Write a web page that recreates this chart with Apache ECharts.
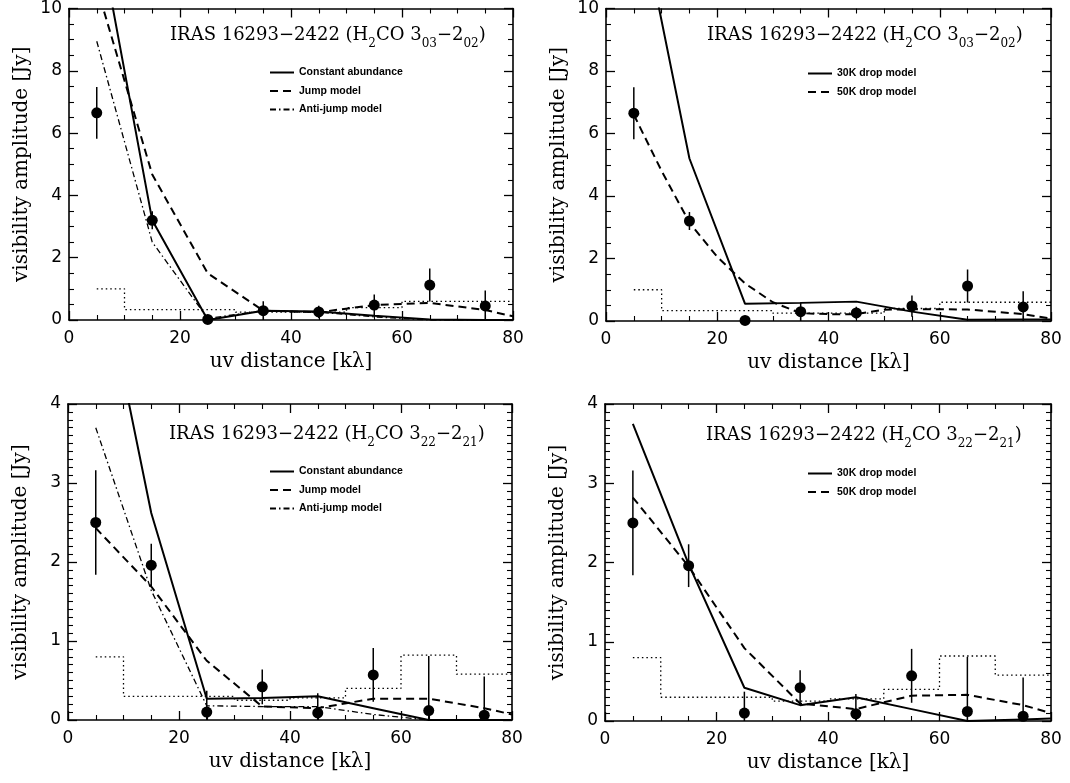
<!DOCTYPE html>
<html>
<head>
<meta charset="utf-8">
<script src="https://cdn.jsdelivr.net/npm/echarts@6/dist/echarts.min.js"></script>
<style>
html,body{margin:0;padding:0;background:#fff;}
#chart{width:1070px;height:783px;}
</style>
</head>
<body>
<div id="chart"></div>
<script>
// ---------------- data ----------------
const X_OBS = [5, 15, 25, 35, 45, 55, 65, 75];
const X_MODEL = [5, 15, 25, 35, 45, 55, 65, 75, 80];
const X_HIST = [5, 10, 20, 30, 40, 50, 60, 70];   // bin starts, last bin ends at 80
const X_HIST_END = 80;

// H2CO 3_03-2_02 observed amplitudes and errors
const obs303 = [6.65, 3.2, 0.02, 0.3, 0.26, 0.48, 1.12, 0.45];
const err303 = [0.83, 0.29, 0.15, 0.3, 0.2, 0.34, 0.53, 0.5];
const hist303 = [1.0, 0.33, 0.33, 0.25, 0.25, 0.4, 0.6, 0.6];

// H2CO 3_22-2_21 observed amplitudes and errors
const obs322 = [2.5, 1.96, 0.1, 0.42, 0.09, 0.57, 0.12, 0.06];
const err322 = [0.66, 0.27, 0.27, 0.22, 0.25, 0.34, 0.69, 0.49];
const hist322 = [0.8, 0.3, 0.3, 0.25, 0.28, 0.4, 0.82, 0.58];

// models, top-left (3_03-2_02)
const const303 = [12.8, 3.2, 0.0, 0.3, 0.27, 0.14, 0.02, 0.0, 0.0];
const jump303 = [10.7, 4.67, 1.5, 0.3, 0.25, 0.48, 0.55, 0.32, 0.12];
const anti303 = [8.95, 2.5, 0.05, 0.3, 0.25, 0.1, 0.0, 0.0, 0.0];
// models, top-right (3_03-2_02)
const drop30_303 = [14.0, 5.2, 0.55, 0.58, 0.62, 0.3, 0.04, 0.05, 0.05];
const X_DROP50_303 = [5, 10, 15, 20, 25, 30, 35, 40, 45, 50, 55, 65, 75, 80];
const drop50_303 = [6.6, 4.8, 3.15, 2.05, 1.2, 0.6, 0.25, 0.22, 0.22, 0.36, 0.38, 0.37, 0.22, 0.08];
// models, bottom-left (3_22-2_21)
const const322 = [6.07, 2.62, 0.27, 0.28, 0.3, 0.15, 0.0, 0.0, 0.0];
const jump322 = [2.43, 1.69, 0.75, 0.17, 0.15, 0.27, 0.27, 0.15, 0.07];
const anti322 = [3.7, 1.64, 0.18, 0.17, 0.17, 0.07, 0.0, 0.0, 0.0];
// models, bottom-right (3_22-2_21)
const drop30_322 = [3.75, 1.98, 0.42, 0.2, 0.3, 0.15, 0.0, 0.02, 0.03];
const drop50_322 = [2.82, 1.95, 0.92, 0.22, 0.15, 0.32, 0.33, 0.2, 0.1];

const X_TICKS = [0, 20, 40, 60, 80];
const Y_TOP = {min: 0, max: 10, interval: 2};
const Y_BOT = {min: 0, max: 4, interval: 1};

const NAME_CONST = 'Constant abundance';
const NAME_JUMP = 'Jump model';
const NAME_ANTI = 'Anti-jump model';
const NAME_30K = '30K drop model';
const NAME_50K = '50K drop model';
const X_TITLE = 'uv distance [kλ]';
const Y_TITLE = 'visibility amplitude [Jy]';

// ---------------- helpers ----------------
const zip = (xs, ys) => xs.map((x, i) => [x, ys[i]]);
const histData = (vals) => {
  const d = X_HIST.map((x, i) => [x, vals[i]]);
  d.push([X_HIST_END, vals[vals.length - 1]]);
  return d;
};

const grids = [
  {left: 69, top: 5, width: 444, height: 315},
  {left: 606, top: 5, width: 445, height: 316},
  {left: 68, top: 404, width: 444, height: 316},
  {left: 605, top: 404, width: 446, height: 317}
];

const axisLineStyle = {color: '#000', width: 1.6};
const tickLabelFont = {color: '#000', fontFamily: 'DejaVu Sans', fontSize: 17};

const xAxes = [], yAxes = [];
grids.forEach((g, gi) => {
  const yr = gi < 2 ? Y_TOP : Y_BOT;
  const yMinor = gi < 2 ? 4 : 10;
  xAxes.push({
    type: 'value', gridIndex: gi, position: 'bottom', min: 0, max: 80, interval: 20,
    axisLine: {show: true, onZero: false, lineStyle: axisLineStyle},
    axisTick: {show: true, inside: true, length: 9, lineStyle: {color: '#000', width: 1.3}},
    minorTick: {show: true, splitNumber: 4, length: 5, lineStyle: {color: '#000', width: 1.1}},
    splitLine: {show: false},
    axisLabel: Object.assign({margin: 10}, tickLabelFont),
    name: X_TITLE, nameLocation: 'middle', nameGap: 32,
    nameTextStyle: {color: '#000', fontFamily: 'DejaVu Serif', fontSize: 20}
  });
  xAxes.push({
    type: 'value', gridIndex: gi, position: 'top', min: 0, max: 80, interval: 20,
    axisLine: {show: true, onZero: false, lineStyle: axisLineStyle},
    axisTick: {show: true, inside: true, length: 9, lineStyle: {color: '#000', width: 1.3}},
    minorTick: {show: true, splitNumber: 4, length: 5, lineStyle: {color: '#000', width: 1.1}},
    splitLine: {show: false}, axisLabel: {show: false}
  });
  yAxes.push({
    type: 'value', gridIndex: gi, position: 'left', min: yr.min, max: yr.max, interval: yr.interval,
    axisLine: {show: true, onZero: false, lineStyle: axisLineStyle},
    axisTick: {show: true, inside: true, length: 9, lineStyle: {color: '#000', width: 1.3}},
    minorTick: {show: true, splitNumber: yMinor, length: 5, lineStyle: {color: '#000', width: 1.1}},
    splitLine: {show: false},
    axisLabel: Object.assign({margin: 7}, tickLabelFont),
    name: Y_TITLE, nameLocation: 'middle', nameGap: 37, nameRotate: 90,
    nameTextStyle: {color: '#000', fontFamily: 'DejaVu Serif', fontSize: 20}
  });
  yAxes.push({
    type: 'value', gridIndex: gi, position: 'right', min: yr.min, max: yr.max, interval: yr.interval,
    axisLine: {show: true, onZero: false, lineStyle: axisLineStyle},
    axisTick: {show: true, inside: true, length: 9, lineStyle: {color: '#000', width: 1.3}},
    minorTick: {show: true, splitNumber: yMinor, length: 5, lineStyle: {color: '#000', width: 1.1}},
    splitLine: {show: false}, axisLabel: {show: false}
  });
});

const series = [];
const STYLE = {
  solid: {color: '#000', width: 2, type: 'solid'},
  dashed: {color: '#000', width: 2, type: [8, 5]},
  dashdot: {color: '#000', width: 1.3, type: [6, 3, 1.5, 3]},
  dotted: {color: '#000', width: 1.3, type: [1.5, 3]}
};
function lineSeries(gi, name, data, style, z) {
  series.push({
    type: 'line', name: name, xAxisIndex: 2 * gi, yAxisIndex: 2 * gi, data: data,
    symbol: 'none', showSymbol: false, clip: true, z: z || 3,
    lineStyle: style, itemStyle: {color: '#000'}
  });
}
function histSeries(gi, vals) {
  series.push({
    type: 'line', name: 'rms', xAxisIndex: 2 * gi, yAxisIndex: 2 * gi, data: histData(vals),
    step: 'end', symbol: 'none', showSymbol: false, clip: true, z: 2,
    lineStyle: STYLE.dotted
  });
}
function obsSeries(gi, vals, errs) {
  series.push({
    type: 'custom', xAxisIndex: 2 * gi, yAxisIndex: 2 * gi, clip: true, z: 4,
    data: X_OBS.map((x, i) => [x, vals[i] - errs[i], vals[i] + errs[i]]),
    renderItem: function (params, api) {
      const p1 = api.coord([api.value(0), api.value(1)]);
      const p2 = api.coord([api.value(0), api.value(2)]);
      return {type: 'line', shape: {x1: p1[0], y1: p1[1], x2: p2[0], y2: p2[1]},
        style: {stroke: '#000', lineWidth: 1.5}};
    }
  });
  series.push({
    type: 'scatter', xAxisIndex: 2 * gi, yAxisIndex: 2 * gi, data: zip(X_OBS, vals),
    symbol: 'circle', symbolSize: 11, itemStyle: {color: '#000', opacity: 1}, z: 5, clip: false
  });
}

// top-left
histSeries(0, hist303);
lineSeries(0, NAME_CONST, zip(X_MODEL, const303), STYLE.solid);
lineSeries(0, NAME_JUMP, zip(X_MODEL, jump303), STYLE.dashed);
lineSeries(0, NAME_ANTI, zip(X_MODEL, anti303), STYLE.dashdot);
obsSeries(0, obs303, err303);
// top-right
histSeries(1, hist303);
lineSeries(1, NAME_30K, zip(X_MODEL, drop30_303), STYLE.solid);
lineSeries(1, NAME_50K, zip(X_DROP50_303, drop50_303), STYLE.dashed);
obsSeries(1, obs303, err303);
// bottom-left
histSeries(2, hist322);
lineSeries(2, NAME_CONST, zip(X_MODEL, const322), STYLE.solid);
lineSeries(2, NAME_JUMP, zip(X_MODEL, jump322), STYLE.dashed);
lineSeries(2, NAME_ANTI, zip(X_MODEL, anti322), STYLE.dashdot);
obsSeries(2, obs322, err322);
// bottom-right
histSeries(3, hist322);
lineSeries(3, NAME_30K, zip(X_MODEL, drop30_322), STYLE.solid);
lineSeries(3, NAME_50K, zip(X_MODEL, drop50_322), STYLE.dashed);
obsSeries(3, obs322, err322);

const rich = {
  a: {fontFamily: 'DejaVu Serif', fontWeight: 'normal', fontSize: 18, color: '#000', lineHeight: 22, verticalAlign: 'top'},
  s: {fontFamily: 'DejaVu Serif', fontWeight: 'normal', fontSize: 12, color: '#000', lineHeight: 14, padding: [12, 0, 0, 0], verticalAlign: 'top'}
};
const title303 = '{a|IRAS 16293−2422 (H}{s|2}{a|CO 3}{s|03}{a|−2}{s|02}{a|)}';
const title322 = '{a|IRAS 16293−2422 (H}{s|2}{a|CO 3}{s|22}{a|−2}{s|21}{a|)}';
const titles = [
  {text: title303, left: 170, top: 26},
  {text: title303, left: 707, top: 26},
  {text: title322, left: 169, top: 425},
  {text: title322, left: 706, top: 426}
].map(t => ({text: t.text, left: t.left, top: t.top, padding: 0,
  textStyle: {fontWeight: 'normal', fontFamily: 'DejaVu Serif', rich: rich}}));

const legendText = {color: '#000', fontFamily: 'Liberation Sans', fontWeight: 'bold', fontSize: 10.5};
const legendBase = {orient: 'vertical', itemWidth: 24, itemHeight: 10, itemGap: 7.5, selectedMode: false,
  padding: 0, textStyle: legendText, itemStyle: {opacity: 0}};
const legends = [
  Object.assign({}, legendBase, {left: 269, top: 67, data: [NAME_CONST, NAME_JUMP, NAME_ANTI]}),
  Object.assign({}, legendBase, {left: 807, top: 68, data: [NAME_30K, NAME_50K]}),
  Object.assign({}, legendBase, {left: 269, top: 466, data: [NAME_CONST, NAME_JUMP, NAME_ANTI]}),
  Object.assign({}, legendBase, {left: 807, top: 468, data: [NAME_30K, NAME_50K]})
];

const chart = echarts.init(document.getElementById('chart'), null, {renderer: 'canvas'});
chart.setOption({
  backgroundColor: '#fff',
  animation: false,
  title: titles,
  legend: legends,
  grid: grids,
  xAxis: xAxes,
  yAxis: yAxes,
  series: series
});
</script>
</body>
</html>
